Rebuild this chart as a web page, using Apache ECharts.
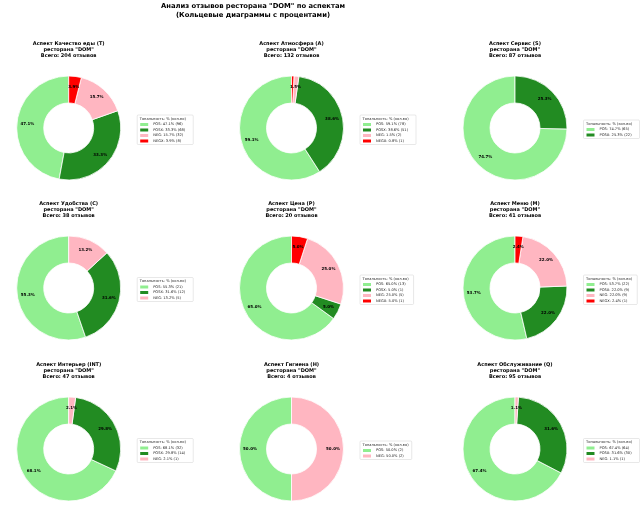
<!DOCTYPE html>
<html>
<head>
<meta charset="utf-8">
<script src="https://cdn.jsdelivr.net/npm/echarts@6/dist/echarts.min.js"></script>
<style>
  html, body { margin: 0; padding: 0; background: #fff; }
  #chart { width: 640px; height: 517px; }
</style>
</head>
<body>
<div id="chart"></div>
<script>
// данные по аспектам
const aspectNames = ['Качество еды (T)', 'Атмосфера (A)', 'Сервис (S)', 'Удобства (C)', 'Цена (P)', 'Меню (M)', 'Интерьер (INT)', 'Гигиена (H)', 'Обслуживание (Q)']
const posCounts = [96, 78, 65, 21, 13, 22, 32, 2, 64]
const posxCounts = [68, 51, 22, 12, 1, 9, 14, 0, 30]
const negCounts = [32, 2, 0, 5, 5, 9, 1, 2, 1]
const negxCounts = [8, 1, 0, 0, 1, 1, 0, 0, 0]
const sentimentNames = ['POS', 'POSX', 'NEG', 'NEGX']
const sentimentColors = ['#90EE90', '#228B22', '#FFB6C1', '#FF0000']

const colCenters = [68.7, 291.5, 515]
const rowCenters = [128, 288, 449]
const font = 'DejaVu Sans'

const chart = echarts.init(document.getElementById('chart'), null, { renderer: 'canvas' })

const titles = [{
  text: 'Анализ отзывов ресторана "DOM" по аспектам\n(Кольцевые диаграммы с процентами)',
  left: 253,
  textAlign: 'center',
  top: 2,
  padding: 0,
  textStyle: { fontFamily: font, fontSize: 6.8, fontWeight: 'bold', lineHeight: 9, color: '#000' }
}]
const legends = []
const series = []

aspectNames.forEach((name, i) => {
  const cx = colCenters[i % 3]
  const cy = rowCenters[Math.floor(i / 3)]
  const counts = [posCounts[i], posxCounts[i], negCounts[i], negxCounts[i]]
  const total = counts.reduce((a, b) => a + b, 0)
  const pct = v => (v / total * 100).toFixed(1)

  const items = []
  counts.forEach((v, k) => {
    if (!v) return
    items.push({
      name: sentimentNames[k],
      value: v,
      itemStyle: { color: sentimentColors[k] },
      label: { show: v / total * 100 > 1 }
    })
  })
  const labelMap = {}
  items.forEach(it => { labelMap[it.name] = it.name + ': ' + pct(it.value) + '% (' + it.value + ')' })

  titles.push({
    text: 'Аспект ' + name + '\nресторана "DOM"\nВсего: ' + total + ' отзывов',
    left: cx,
    textAlign: 'center',
    top: cy - 87,
    padding: 0,
    textStyle: { fontFamily: font, fontSize: 5, fontWeight: 'bold', lineHeight: 5.8, color: '#000' }
  })

  const boxH = 8 + 5 * items.length
  const legLeft = cx + 68.5
  const legTop = cy + 1 - boxH / 2
  titles.push({
    text: 'Тональность: % (кол-во)',
    left: legLeft + 2.5,
    top: legTop + 2,
    padding: 0,
    textStyle: { fontFamily: font, fontSize: 3.6, fontWeight: 'normal', color: '#222' }
  })
  legends.push({
    orient: 'vertical',
    left: legLeft,
    top: legTop,
    data: items.map(it => it.name),
    formatter: n => labelMap[n],
    icon: 'rect',
    itemWidth: 8,
    itemHeight: 3,
    itemGap: 1.5,
    padding: [7.5, 8, 1.5, 3],
    borderColor: '#d0d0d0',
    borderWidth: 0.5,
    borderRadius: 1,
    backgroundColor: '#fff',
    selectedMode: false,
    itemStyle: { borderWidth: 0 },
    textStyle: { fontFamily: font, fontSize: 3.6, lineHeight: 3.5, color: '#222' }
  })

  series.push({
    type: 'pie',
    name: name,
    center: [cx, cy],
    radius: [25, 52],
    startAngle: 90,
    clockwise: false,
    avoidLabelOverlap: false,
    silent: true,
    itemStyle: { borderColor: '#fff', borderWidth: 0.8 },
    label: {
      position: 'inside',
      formatter: p => pct(p.value) + '%',
      fontFamily: font,
      fontSize: 4,
      fontWeight: 'bold',
      color: '#000'
    },
    labelLine: { show: false },
    emphasis: { disabled: true },
    data: items
  })
})

chart.setOption({
  backgroundColor: '#fff',
  animation: false,
  title: titles,
  legend: legends,
  series: series
})
</script>
</body>
</html>
